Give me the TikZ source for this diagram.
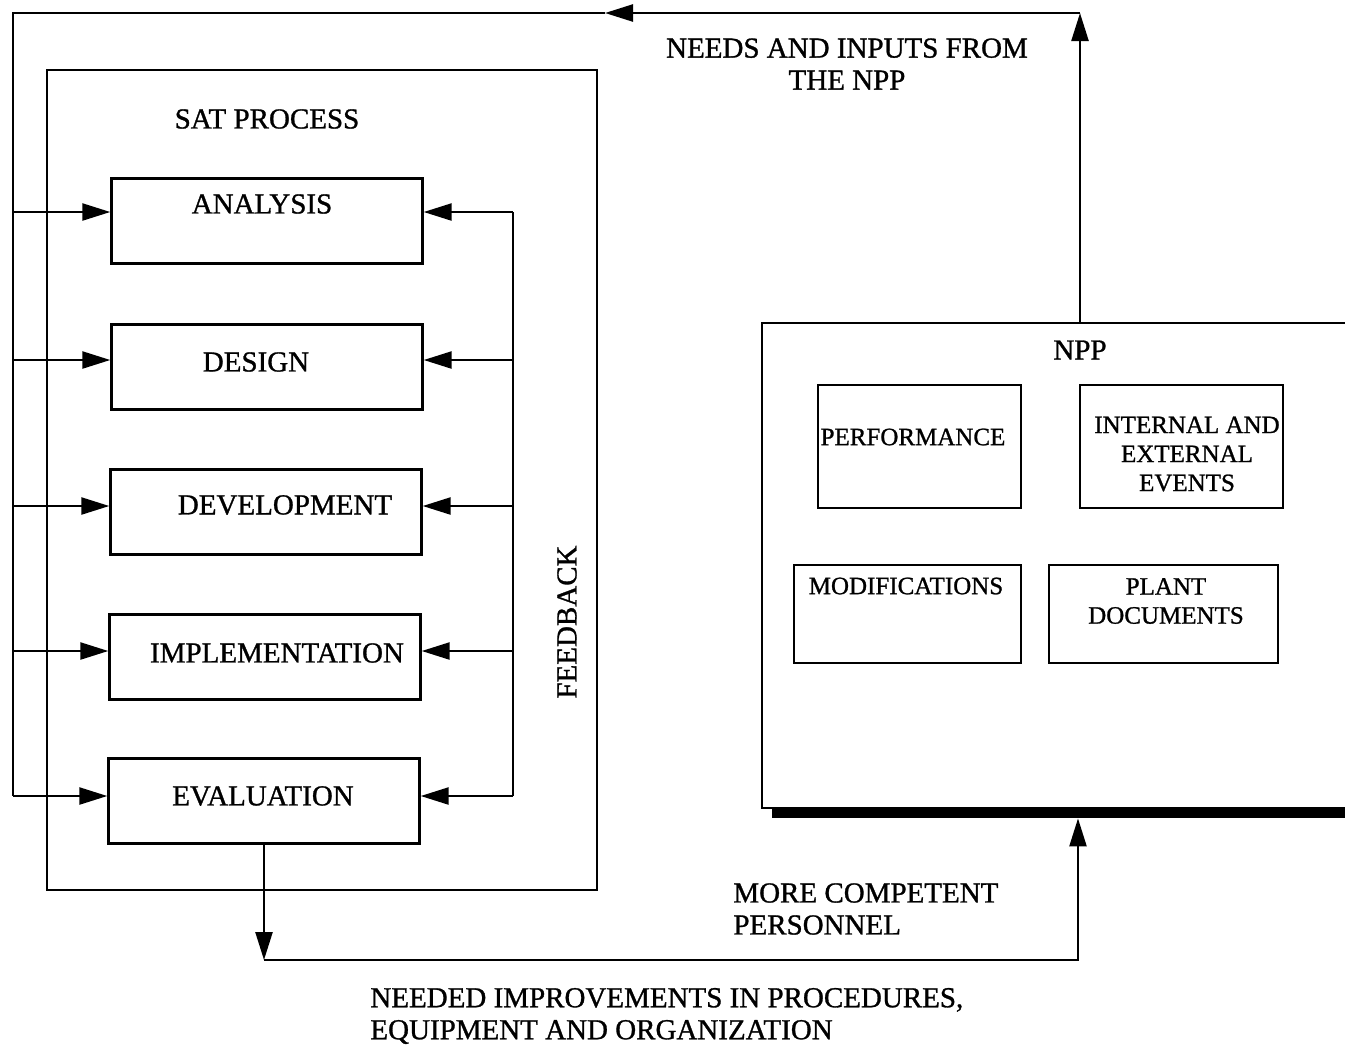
\documentclass[tikz,border=0pt]{standalone}
\usepackage{fontspec}
\setmainfont{Liberation Serif}[FakeBold=1]
\usetikzlibrary{arrows.meta}

\begin{document}
\begin{tikzpicture}[
    x=0.5pt, y=-0.5pt,
    every node/.style={align=center, inner sep=0pt, font=\fontsize{14.5}{16}\selectfont},
    stage/.style={draw, line width=1.2pt, minimum width=155.5pt, minimum height=42.5pt},
    item/.style={draw, line width=1.2pt},
    small text/.style={font=\fontsize{12.5}{14.5}\selectfont},
    wire/.style={draw, line width=1.2pt},
    flow/.style={draw, line width=1.2pt, -{Triangle[length=14pt,width=8.5pt]}},
    ]
\path[use as bounding box, fill=white] (0,0) rectangle (1345,1046);

% SAT process and its five stages
\node[draw, line width=1.2pt, minimum width=275pt, minimum height=410pt] (sat) at (322,480) {};
\node (sat-title) at (267,119) {SAT PROCESS};
\node[stage] (analysis) at (267,221) {};
\node (analysis-text) at (262,204) {ANALYSIS};
\node[stage] (design) at (267,367) {};
\node (design-text) at (256,362) {DESIGN};
\node[stage] (development) at (266,512) {};
\node (development-text) at (285,505) {DEVELOPMENT};
\node[stage] (implementation) at (265,657) {};
\node (implementation-text) at (277,653) {IMPLEMENTATION};
\node[stage] (evaluation) at (264,801) {};
\node (evaluation-text) at (263,796) {EVALUATION};
\node[rotate=90] (feedback) at (567,622) {FEEDBACK};

% NPP with its four sources
\node[draw, line width=1.2pt, minimum width=318pt, minimum height=242.5pt] (npp) at (1080,565.5) {};
\node[fill, minimum width=314pt, minimum height=5pt] (shadow) at (1086,813) {};
\node (npp-title) at (1080,350) {NPP};
\node[item, minimum width=101.5pt, minimum height=61.5pt] (performance) at (919.5,446.5) {};
\node[small text] (performance-text) at (913,437) {PERFORMANCE};
\node[item, minimum width=101.5pt, minimum height=61.5pt] (events) at (1181.5,446.5) {};
\node[small text] (events-text) at (1187,454) {INTERNAL AND\\EXTERNAL\\EVENTS};
\node[item, minimum width=113.5pt, minimum height=49pt] (modifications) at (907.5,614) {};
\node[small text] (modifications-text) at (906,586) {MODIFICATIONS};
\node[item, minimum width=114.5pt, minimum height=49pt] (documents) at (1163.5,614) {};
\node[small text] (documents-text) at (1166,601) {PLANT\\DOCUMENTS};

% labels on the outer loops
\node (needs) at (847,64) {NEEDS AND INPUTS FROM\\THE NPP};
\node[align=left, anchor=west] (personnel) at (733,909) {MORE COMPETENT\\PERSONNEL};
\node[align=left, anchor=west] (improvements) at (370,1016) {NEEDED IMPROVEMENTS IN PROCEDURES,\\EQUIPMENT AND ORGANIZATION};

% inputs on the left, feedback on the right
\foreach \n/\y in {analysis/212, design/360, development/506, implementation/651, evaluation/796} {
    \coordinate (in-\n) at (13,\y);
    \coordinate (fb-\n) at (513,\y);
    \draw[flow] (in-\n) -- (in-\n -| \n.west);
    \draw[flow] (fb-\n) -- (fb-\n -| \n.east);
}
\draw[wire] (fb-analysis) -- (fb-evaluation);

% needs from the NPP back to the start
\coordinate (top-right) at (1080,13);
\coordinate (top-mid) at (605,13);
\coordinate (top-left) at (13,13);
\draw[flow] (npp.north) -- (top-right);
\draw[flow] (top-right) -- (top-mid);
\draw[wire] (top-mid) -- (top-left) -- (in-evaluation);

% results of evaluation back to the NPP
\coordinate (bottom-left) at (evaluation.south |- 0,960);
\coordinate (bottom-right) at (1078,960);
\draw[flow] (evaluation.south) -- (bottom-left);
\draw[flow] (bottom-left) -- (bottom-right) -- (bottom-right |- shadow.south);
\end{tikzpicture}
\end{document}
